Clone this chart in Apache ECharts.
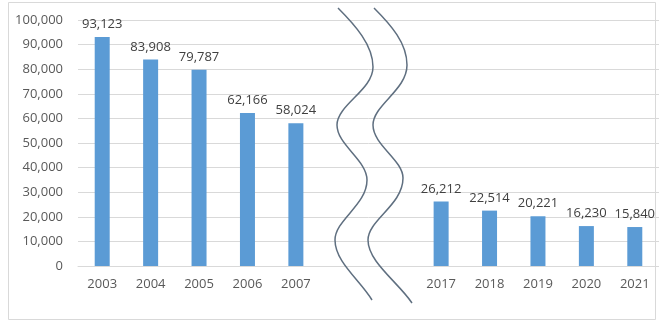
<!DOCTYPE html>
<html>
<head>
<meta charset="utf-8">
<script src="https://cdn.jsdelivr.net/npm/echarts@6/dist/echarts.min.js"></script>
<style>
html,body{margin:0;padding:0;background:#fff;}
#chart{width:659px;height:322px;}
</style>
</head>
<body>
<div id="chart"></div>
<script>
// Data
var categories = ['2003', '2004', '2005', '2006', '2007', '', '', '2017', '2018', '2019', '2020', '2021'];
var values = [93123, 83908, 79787, 62166, 58024, null, null, 26212, 22514, 20221, 16230, 15840];
var yMin = 0, yMax = 100000, yStep = 10000;

function fmt(n) {
  return String(n).replace(/\B(?=(\d{3})+(?!\d))/g, ',');
}

// Decorative axis-break wavy lines (cubic segments: start, cp1, cp2, end)
function wave(segs) {
  return segs.map(function (s) {
    return {
      type: 'bezierCurve', z: 100, silent: true,
      shape: {x1: s[0], y1: s[1], cpx1: s[2], cpy1: s[3], cpx2: s[4], cpy2: s[5], x2: s[6], y2: s[7]},
      style: {fill: null, stroke: '#5f6f80', lineWidth: 1.5}
    };
  });
}
var wave1 = wave([
  [338, 8, 355, 25, 373, 45, 373, 67],
  [373, 67, 373, 90, 337, 105, 337, 125],
  [337, 125, 337, 145, 367, 160, 367, 180],
  [367, 180, 367, 205, 335, 220, 335, 240],
  [335, 240, 335, 262, 360, 280, 372, 300]
]);
var wave2 = wave([
  [374, 8, 391, 25, 407, 43, 407, 65],
  [407, 65, 407, 90, 373, 105, 373, 125],
  [373, 125, 373, 145, 403, 160, 403, 178],
  [403, 178, 403, 205, 368, 220, 368, 240],
  [368, 240, 368, 262, 398, 282, 412, 303]
]);

var chart = echarts.init(document.getElementById('chart'), null, {renderer: 'canvas'});
var font = '"Open Sans", "DejaVu Sans", sans-serif';
var option = {
  animation: false,
  backgroundColor: '#ffffff',
  grid: {left: 78, top: 20, width: 584, bottom: 56, containLabel: false},
  xAxis: {
    type: 'category',
    data: categories,
    axisLine: {show: true, lineStyle: {color: '#d9d9d9', width: 1}},
    axisTick: {show: false},
    axisLabel: {color: '#595959', fontSize: 13, fontFamily: font, margin: 12, interval: 0}
  },
  yAxis: {
    type: 'value',
    min: yMin, max: yMax, interval: yStep,
    axisLine: {show: false},
    axisTick: {show: false},
    splitLine: {lineStyle: {color: '#d9d9d9', width: 1}},
    axisLabel: {color: '#595959', fontSize: 13, fontFamily: font, margin: 15, formatter: function (v) { return fmt(v); }}
  },
  series: [{
    type: 'bar',
    data: values,
    barWidth: 15,
    itemStyle: {color: '#5b9bd5'},
    label: {
      show: true, position: 'top', distance: 6,
      color: '#404040', fontSize: 13, fontFamily: font,
      formatter: function (p) { return p.value == null ? '' : fmt(p.value); }
    }
  }],
  graphic: [
    {type: 'rect', z: 0, silent: true, shape: {x: 8.5, y: 2.5, width: 647, height: 317},
     style: {fill: null, stroke: '#d9d9d9', lineWidth: 1}}
  ].concat(wave1, wave2)
};
chart.setOption(option);
</script>
</body>
</html>
